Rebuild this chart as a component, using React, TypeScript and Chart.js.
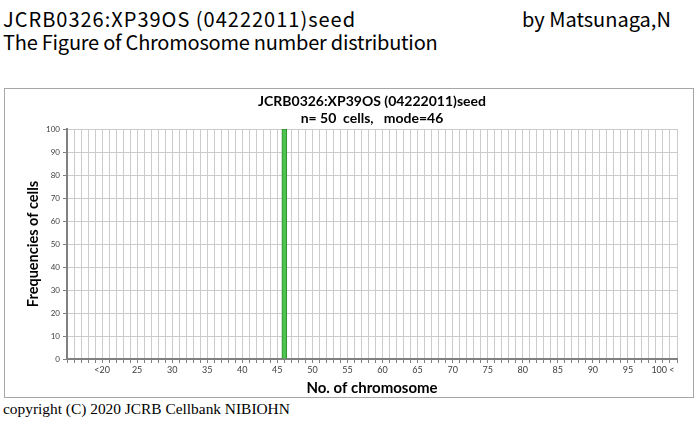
import React, { useEffect, useRef } from "react";
import { Chart, registerables } from "chart.js";

Chart.register(...registerables);

// Chromosome number categories shown on the x axis (15 .. 102)
const chromosomeNumbers = [
  15, 16, 17, 18, 19, 20, 21, 22, 23, 24, 25, 26, 27, 28, 29, 30, 31, 32, 33, 34,
  35, 36, 37, 38, 39, 40, 41, 42, 43, 44, 45, 46, 47, 48, 49, 50, 51, 52, 53, 54,
  55, 56, 57, 58, 59, 60, 61, 62, 63, 64, 65, 66, 67, 68, 69, 70, 71, 72, 73, 74,
  75, 76, 77, 78, 79, 80, 81, 82, 83, 84, 85, 86, 87, 88, 89, 90, 91, 92, 93, 94,
  95, 96, 97, 98, 99, 100, 101, 102,
];

// Frequencies of cells for each category
const cellFrequencies = [
  0, 0, 0, 0, 0, 0, 0, 0, 0, 0, 0, 0, 0, 0, 0, 0, 0, 0, 0, 0,
  0, 0, 0, 0, 0, 0, 0, 0, 0, 0, 0, 100, 0, 0, 0, 0, 0, 0, 0, 0,
  0, 0, 0, 0, 0, 0, 0, 0, 0, 0, 0, 0, 0, 0, 0, 0, 0, 0, 0, 0,
  0, 0, 0, 0, 0, 0, 0, 0, 0, 0, 0, 0, 0, 0, 0, 0, 0, 0, 0, 0,
  0, 0, 0, 0, 0, 0, 0, 0,
];

// Labelled ticks on the x axis
const labelledNumbers = [20, 25, 30, 35, 40, 45, 50, 55, 60, 65, 70, 75, 80, 85, 90, 95, 100];
const labelledTexts = ["<20", "25", "30", "35", "40", "45", "50", "55", "60", "65", "70", "75", "80", "85", "90", "95", "100 <"];

const yTicks = [0, 10, 20, 30, 40, 50, 60, 70, 80, 90, 100];

const chartTitle = ["JCRB0326:XP39OS (04222011)seed", "n= 50  cells,   mode=46"];
const headerLine1 = "JCRB0326:XP39OS (04222011)seed";
const headerLine2 = "The Figure of Chromosome number distribution";
const headerAuthor = "by Matsunaga,N";
const copyright = "copyright (C) 2020 JCRB Cellbank NIBIOHN";

export default function App() {
  const canvasRef = useRef<HTMLCanvasElement | null>(null);

  useEffect(() => {
    const canvas = canvasRef.current;
    if (!canvas) return;
    const chart = new Chart(canvas, {
      type: "bar",
      data: {
        labels: chromosomeNumbers.map(String),
        datasets: [
          {
            data: cellFrequencies,
            backgroundColor: "#4fc34f",
            borderColor: "#2c8a2c",
            borderWidth: 1,
            barThickness: 5,
          },
        ],
      },
      options: {
        animation: false,
        responsive: false,
        maintainAspectRatio: false,
        layout: { padding: { left: 20, right: 16, top: 0, bottom: 0 } },
        plugins: {
          legend: { display: false },
          tooltip: { enabled: false },
          title: {
            display: true,
            text: chartTitle,
            fullSize: false,
            color: "#000",
            font: { family: "Lato", size: 14, weight: "bold", lineHeight: 1.2 },
            padding: { top: 4, bottom: 2.4 },
          },
        },
        scales: {
          x: {
            type: "category",
            offset: false,
            grid: {
              offset: false,
              color: "#cccccc",
              tickColor: "#808080",
              tickLength: 4,
              drawTicks: true,
            },
            border: { color: "#808080", width: 2 },
            ticks: {
              autoSkip: false,
              maxRotation: 0,
              minRotation: 0,
              padding: 2,
              color: "#404040",
              font: { family: "Lato", size: 9 },
              callback: (_v: any, index: number) => {
                const n = chromosomeNumbers[index];
                const k = labelledNumbers.indexOf(n);
                return k >= 0 ? labelledTexts[k] : "";
              },
            },
            title: {
              display: true,
              text: "No. of chromosome",
              color: "#000",
              font: { family: "Lato", size: 15, weight: "bold", lineHeight: 1.2 },
              padding: { top: 0, bottom: 0 },
            },
            afterFit: (scale: any) => {
              scale.height = 38;
            },
          },
          y: {
            min: 0,
            max: 100,
            afterBuildTicks: (scale: any) => {
              scale.ticks = yTicks.map((v) => ({ value: v }));
            },
            grid: {
              color: "#cccccc",
              tickColor: "#808080",
              tickLength: 4,
            },
            border: { color: "#808080", width: 2 },
            ticks: {
              padding: 3,
              color: "#404040",
              font: { family: "Lato", size: 8 },
            },
            title: {
              display: true,
              text: "Frequencies of cells",
              color: "#000",
              font: { family: "Lato", size: 14.5, weight: "bold", lineHeight: 1.2 },
              padding: { top: 0, bottom: 0 },
            },
            afterFit: (scale: any) => {
              scale.width = 42;
            },
          },
        },
      },
    });
    return () => chart.destroy();
  }, []);

  const headerFont = '"Noto Sans CJK JP", "Noto Sans", sans-serif';

  return (
    <div style={{ position: "absolute", left: 0, top: 0, width: 700, height: 423, background: "#fff", overflow: "hidden" }}>
      <div style={{ position: "absolute", left: 3, top: 7, fontFamily: headerFont, fontSize: 20, lineHeight: "23px", letterSpacing: "1px", color: "#000", whiteSpace: "nowrap" }}>
        {headerLine1}
      </div>
      <div style={{ position: "absolute", left: 522, top: 7, fontFamily: headerFont, fontSize: 20, lineHeight: "23px", color: "#000", whiteSpace: "nowrap" }}>
        {headerAuthor}
      </div>
      <div style={{ position: "absolute", left: 3, top: 30, fontFamily: headerFont, fontSize: 20, lineHeight: "23px", letterSpacing: "-0.23px", color: "#000", whiteSpace: "nowrap" }}>
        {headerLine2}
      </div>
      <div style={{ position: "absolute", left: 4, top: 88, width: 690, height: 310, border: "1px solid #a6a6a6", boxSizing: "border-box" }}>
        <canvas ref={canvasRef} width={688} height={308} style={{ display: "block", width: 688, height: 308 }} />
      </div>
      <div style={{ position: "absolute", left: 3, top: 400, fontFamily: '"Liberation Serif", serif', fontSize: 15.4, lineHeight: "18px", color: "#000", whiteSpace: "nowrap" }}>
        {copyright}
      </div>
    </div>
  );
}
